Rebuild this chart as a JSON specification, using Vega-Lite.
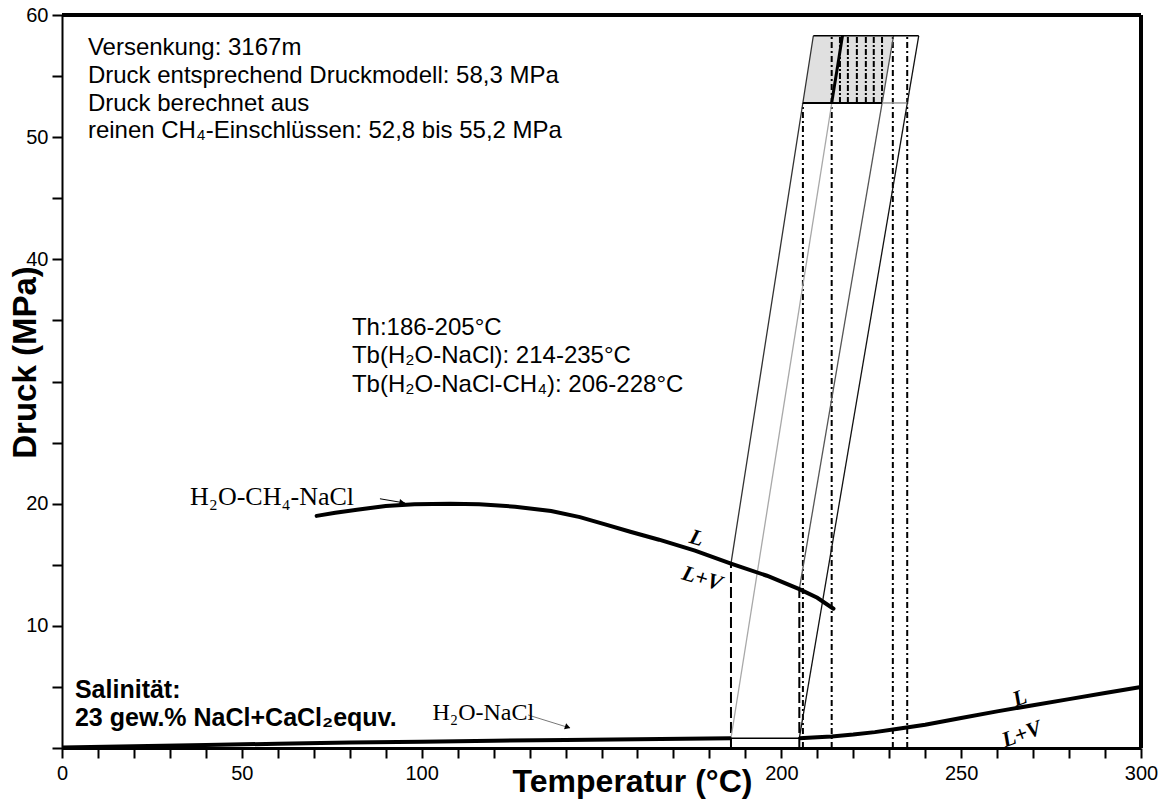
{
  "$schema": "https://vega.github.io/schema/vega-lite/v6.json",
  "width": 1079,
  "height": 733,
  "autosize": {"type": "none"},
  "padding": {"left": 62, "top": 15, "right": 25, "bottom": 52},
  "background": "white",
  "config": {"view": {"stroke": null}, "font": "Liberation Sans"},
  "datasets": {
    "ch4curve": [
      {"T": 70.8, "P": 19.0}, {"T": 76, "P": 19.25}, {"T": 82, "P": 19.5}, {"T": 90, "P": 19.8},
      {"T": 98, "P": 19.95}, {"T": 108, "P": 20.0}, {"T": 116, "P": 19.95}, {"T": 126, "P": 19.75},
      {"T": 136, "P": 19.4}, {"T": 144, "P": 18.9}, {"T": 151, "P": 18.3}, {"T": 158, "P": 17.7},
      {"T": 166, "P": 17.05}, {"T": 176, "P": 16.15}, {"T": 186, "P": 15.1}, {"T": 196, "P": 14.1},
      {"T": 205, "P": 13.0}, {"T": 210, "P": 12.3}, {"T": 214.5, "P": 11.4}
    ],
    "naclcurve": [
      {"seg": "a", "T": 0, "P": 0.05}, {"seg": "a", "T": 20, "P": 0.15}, {"seg": "a", "T": 40, "P": 0.25},
      {"seg": "a", "T": 60, "P": 0.35}, {"seg": "a", "T": 80, "P": 0.45}, {"seg": "a", "T": 100, "P": 0.52},
      {"seg": "a", "T": 120, "P": 0.6}, {"seg": "a", "T": 140, "P": 0.66}, {"seg": "a", "T": 160, "P": 0.72},
      {"seg": "a", "T": 186, "P": 0.8},
      {"seg": "b", "T": 205, "P": 0.8}, {"seg": "b", "T": 210, "P": 0.88}, {"seg": "b", "T": 214, "P": 0.95},
      {"seg": "b", "T": 220, "P": 1.1}, {"seg": "b", "T": 226, "P": 1.3}, {"seg": "b", "T": 232, "P": 1.55},
      {"seg": "b", "T": 240, "P": 1.9}, {"seg": "b", "T": 250, "P": 2.45}, {"seg": "b", "T": 260, "P": 3.0},
      {"seg": "b", "T": 270, "P": 3.5}, {"seg": "b", "T": 280, "P": 4.0}, {"seg": "b", "T": 290, "P": 4.5},
      {"seg": "b", "T": 300, "P": 5.0}
    ],
    "isochores": [
      {"id": "i1", "T": 186, "P": 15.1}, {"id": "i1", "T": 208.9, "P": 58.3},
      {"id": "i2", "T": 186, "P": 0.8}, {"id": "i2", "T": 217.0, "P": 58.3},
      {"id": "i3", "T": 205, "P": 13.0}, {"id": "i3", "T": 231.2, "P": 58.3},
      {"id": "i4", "T": 205, "P": 0.8}, {"id": "i4", "T": 238.2, "P": 58.3}
    ]
  },
  "encoding": {
    "x": {
      "field": "T", "type": "quantitative",
      "scale": {"domain": [0, 300], "nice": false, "zero": false},
      "axis": {
        "values": [0, 10, 20, 30, 40, 50, 60, 70, 80, 90, 100, 110, 120, 130, 140, 150, 160, 170, 180, 190, 200, 210, 220, 230, 240, 250, 260, 270, 280, 290, 300],
        "labelExpr": "datum.value % 50 == 0 && datum.value != 150 ? datum.label : ''",
        "format": "d",
        "grid": false,
        "domainColor": "black", "domainWidth": 3,
        "tickColor": "black", "tickWidth": 2, "tickSize": 10,
        "labelFontSize": 20, "labelColor": "black", "labelPadding": 5, "labelFlush": false,
        "title": "Temperatur (°C)",
        "titleFontSize": 32, "titleFontWeight": "bold", "titleColor": "black",
        "titleX": 570, "titleY": 43, "titleBaseline": "alphabetic"
      }
    },
    "y": {
      "field": "P", "type": "quantitative",
      "scale": {"domain": [0, 60], "nice": false, "zero": false},
      "axis": {
        "values": [0, 5, 10, 15, 20, 25, 30, 35, 40, 45, 50, 55, 60],
        "labelExpr": "indexof([10, 20, 40, 50, 60], datum.value) >= 0 ? datum.label : ''",
        "format": "d",
        "grid": false,
        "domainColor": "black", "domainWidth": 2,
        "tickColor": "black", "tickWidth": 2, "tickSize": 10,
        "labelFontSize": 20, "labelColor": "black", "labelPadding": 4,
        "title": "Druck (MPa)",
        "titleFontSize": 33, "titleFontWeight": "bold", "titleColor": "black",
        "titleX": -27, "titleY": 347, "titleBaseline": "alphabetic"
      }
    }
  },
  "layer": [
    {
      "data": {"values": [{"P": 52.8, "T": 206, "T2": 228}, {"P": 58.3, "T": 208.9, "T2": 231.2}]},
      "mark": {"type": "area", "orient": "horizontal", "color": "#e0e0e0"},
      "encoding": {"x2": {"field": "T2"}}
    },
    {
      "data": {"values": [
        {"T": 216.3, "P": 52.8, "P2": 58.3}, {"T": 218.5, "P": 52.8, "P2": 58.3},
        {"T": 221, "P": 52.8, "P2": 58.3}, {"T": 223.5, "P": 52.8, "P2": 58.3},
        {"T": 225.7, "P": 52.8, "P2": 58.3}, {"T": 228, "P": 52.8, "P2": 58.3}
      ]},
      "mark": {"type": "rule", "color": "black", "strokeWidth": 2, "strokeDash": [6, 2, 2, 2]},
      "encoding": {"y2": {"field": "P2"}}
    },
    {
      "data": {"values": [
        {"T": 206, "P": 0, "P2": 52.8}, {"T": 214, "P": 0, "P2": 58.3},
        {"T": 231, "P": 0, "P2": 58.3}, {"T": 235, "P": 0, "P2": 58.3}
      ]},
      "mark": {"type": "rule", "color": "black", "strokeWidth": 2, "strokeDash": [6, 3, 2, 3]},
      "encoding": {"y2": {"field": "P2"}}
    },
    {
      "data": {"values": [{"T": 186, "P": 0, "P2": 15.1}, {"T": 205, "P": 0, "P2": 13.0}]},
      "mark": {"type": "rule", "color": "black", "strokeWidth": 2, "strokeDash": [11, 4]},
      "encoding": {"y2": {"field": "P2"}}
    },
    {
      "data": {"name": "isochores"},
      "mark": {"type": "line", "strokeWidth": 1.3},
      "encoding": {
        "detail": {"field": "id"},
        "color": {"field": "id", "type": "nominal", "legend": null,
          "scale": {"domain": ["i1", "i2", "i3", "i4"], "range": ["#333333", "#a8a8a8", "#555555", "#111111"]}}
      }
    },
    {
      "data": {"values": [{"T": 214, "P": 52.8}, {"T": 217.0, "P": 58.3}]},
      "mark": {"type": "line", "color": "black", "strokeWidth": 3},
      "encoding": {}
    },
    {
      "data": {"values": [{"T": 206, "P": 52.8, "T2": 228}]},
      "mark": {"type": "rule", "color": "black", "strokeWidth": 2},
      "encoding": {"x2": {"field": "T2"}}
    },
    {
      "data": {"values": [{"T": 228, "P": 52.8, "T2": 235}]},
      "mark": {"type": "rule", "color": "#9a9a9a", "strokeWidth": 1.5},
      "encoding": {"x2": {"field": "T2"}}
    },
    {
      "data": {"values": [{"T": 208.9, "P": 58.3, "T2": 238.2}]},
      "mark": {"type": "rule", "color": "black", "strokeWidth": 1.3},
      "encoding": {"x2": {"field": "T2"}}
    },
    {
      "data": {"values": [{"T": 186, "P": 0.8}, {"T": 205, "P": 0.8}]},
      "mark": {"type": "line", "color": "black", "strokeWidth": 1.5},
      "encoding": {}
    },
    {
      "data": {"name": "naclcurve"},
      "mark": {"type": "line", "color": "black", "strokeWidth": 4},
      "encoding": {"detail": {"field": "seg"}}
    },
    {
      "data": {"name": "ch4curve"},
      "mark": {"type": "line", "color": "black", "strokeWidth": 4, "strokeCap": "round"},
      "encoding": {}
    },
    {
      "data": {"values": [{"T": 0, "P": 60, "T2": 300}]},
      "mark": {"type": "rule", "color": "black", "strokeWidth": 4},
      "encoding": {"x2": {"field": "T2"}}
    },
    {
      "data": {"values": [{"T": 300, "P": 0, "P2": 60}]},
      "mark": {"type": "rule", "color": "black", "strokeWidth": 4},
      "encoding": {"y2": {"field": "P2"}}
    },
    {
      "data": {"values": [{"T": 88.4, "P": 20.4, "T2": 95.4, "P2": 20.05}]},
      "mark": {"type": "rule", "color": "black", "strokeWidth": 1},
      "encoding": {"x2": {"field": "T2"}, "y2": {"field": "P2"}}
    },
    {
      "data": {"values": [{"T": 94.6, "P": 20.09}]},
      "mark": {"type": "point", "shape": "triangle-right", "filled": true, "color": "black", "size": 40, "angle": 8, "opacity": 1},
      "encoding": {}
    },
    {
      "data": {"values": [{"T": 129.6, "P": 2.7, "T2": 141.2, "P2": 1.64}]},
      "mark": {"type": "rule", "color": "#777777", "strokeWidth": 1},
      "encoding": {"x2": {"field": "T2"}, "y2": {"field": "P2"}}
    },
    {
      "data": {"values": [{"T": 140.6, "P": 1.7}]},
      "mark": {"type": "point", "shape": "triangle-right", "filled": true, "color": "black", "size": 40, "angle": 19, "opacity": 1},
      "encoding": {}
    },
    {
      "data": {"values": [
        {"T": 7.2, "P": 57.3, "label": "Versenkung: 3167m"},
        {"T": 7.2, "P": 55.0, "label": "Druck entsprechend Druckmodell: 58,3 MPa"},
        {"T": 7.2, "P": 52.75, "label": "Druck berechnet aus"},
        {"T": 7.2, "P": 50.5, "label": "reinen CH₄-Einschlüssen: 52,8 bis 55,2 MPa"},
        {"T": 80.6, "P": 34.4, "label": "Th:186-205°C"},
        {"T": 80.6, "P": 32.05, "label": "Tb(H₂O-NaCl): 214-235°C"},
        {"T": 80.6, "P": 29.75, "label": "Tb(H₂O-NaCl-CH₄): 206-228°C"}
      ]},
      "mark": {"type": "text", "align": "left", "baseline": "middle", "fontSize": 24, "color": "black", "font": "Liberation Sans"},
      "encoding": {"text": {"field": "label"}}
    },
    {
      "data": {"values": [
        {"T": 3.6, "P": 4.75, "label": "Salinität:"},
        {"T": 3.6, "P": 2.45, "label": "23 gew.% NaCl+CaCl₂equv."}
      ]},
      "mark": {"type": "text", "align": "left", "baseline": "middle", "fontSize": 25, "fontWeight": "bold", "color": "black", "font": "Liberation Sans"},
      "encoding": {"text": {"field": "label"}}
    },
    {
      "data": {"values": [{"T": 35.6, "P": 20.55, "label": "H₂O-CH₄-NaCl"}]},
      "mark": {"type": "text", "align": "left", "baseline": "middle", "fontSize": 26, "color": "black", "font": "Liberation Serif"},
      "encoding": {"text": {"field": "label"}}
    },
    {
      "data": {"values": [{"T": 103, "P": 2.9, "label": "H₂O-NaCl"}]},
      "mark": {"type": "text", "align": "left", "baseline": "middle", "fontSize": 24, "color": "black", "font": "Liberation Serif"},
      "encoding": {"text": {"field": "label"}}
    },
    {
      "data": {"values": [
        {"T": 176.5, "P": 17.2, "label": "L"},
        {"T": 178, "P": 13.9, "label": "L+V"}
      ]},
      "mark": {"type": "text", "align": "center", "baseline": "middle", "fontSize": 22, "fontWeight": "bold", "fontStyle": "italic", "angle": 17, "color": "black", "font": "Liberation Serif"},
      "encoding": {"text": {"field": "label"}}
    },
    {
      "data": {"values": [
        {"T": 266.3, "P": 4.1, "label": "L"},
        {"T": 266.8, "P": 1.15, "label": "L+V"}
      ]},
      "mark": {"type": "text", "align": "center", "baseline": "middle", "fontSize": 22, "fontWeight": "bold", "fontStyle": "italic", "angle": -20, "color": "black", "font": "Liberation Serif"},
      "encoding": {"text": {"field": "label"}}
    }
  ]
}
